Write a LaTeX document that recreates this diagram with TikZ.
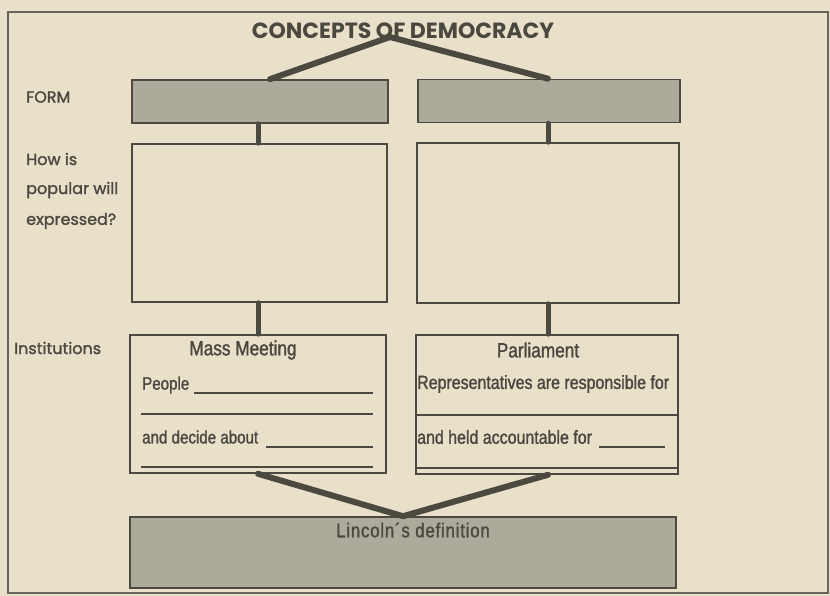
\documentclass[tikz,border=0pt]{standalone}
\usepackage{fontspec}
\setmainfont{Liberation Sans}
\newfontfamily\geo{Poppins}[FakeBold=1.5]
\newfontfamily\geotitle{Poppins}
\newfontfamily\cond{Liberation Sans}[FakeStretch=0.84, FakeBold=1.4]
\definecolor{paper}{HTML}{E8E0C9}
\definecolor{ink}{HTML}{4B4940}
\definecolor{boxfill}{HTML}{ADAA9B}
\definecolor{txt}{HTML}{4A483F}
\tikzset{
  x=1pt, y=-1pt,
  panel/.style={draw=ink, line width=1.6pt, rectangle, inner sep=0pt},
  shaded/.style={panel, fill=boxfill},
  link/.style={draw=ink, line width=6pt, line cap=round},
  stub/.style={draw=ink, line width=5pt, line cap=round},
  rule/.style={draw=ink, line width=1.2pt},
  lbl/.style={text=txt, font=\geo\fontsize{16}{19}\selectfont, anchor=west, inner sep=0pt},
  ctext/.style={text=txt, font=\cond\fontsize{19}{22}\selectfont, inner sep=0pt},
}
\begin{document}
\begin{tikzpicture}
\useasboundingbox (0,0) rectangle (830,596);
\fill[paper] (0,0) rectangle (830,596);
\draw[draw=ink!85, line width=2.4pt] (8,12) rectangle (828,593);

% title
\node[text=txt, font=\geotitle\bfseries\fontsize{22}{24}\selectfont, inner sep=0pt] (title) at (403,31) {CONCEPTS OF DEMOCRACY};
\coordinate (apex) at (390,37);

% boxes
\node[shaded, minimum width=256pt, minimum height=43pt] (formL) at (260,101.5) {};
\node[shaded, minimum width=262pt, minimum height=43pt] (formR) at (549,101) {};
\node[panel, minimum width=255pt, minimum height=158pt] (midL) at (259.5,223) {};
\node[panel, minimum width=262pt, minimum height=160pt] (midR) at (548,223) {};
\node[panel, minimum width=256pt, minimum height=138pt] (instL) at (258,404) {};
\node[panel, minimum width=262pt, minimum height=139pt] (instR) at (547,404.5) {};
\node[shaded, minimum width=546pt, minimum height=71pt] (linc) at (403,552.5) {};

% connectors
\draw[link] (apex) -- ([xshift=10pt]formL.north);
\draw[link] (apex) -- ([xshift=-1pt]formR.north);
\draw[stub] ([xshift=-2pt]formL.south) -- ([xshift=-1.5pt]midL.north);
\draw[stub] ([xshift=-1pt]formR.south) -- (midR.north);
\draw[stub] ([xshift=-1.5pt]midL.south) -- (instL.north);
\draw[stub] (midR.south) -- ([xshift=1pt]instR.north);
\draw[link] (instL.south) -- (linc.north);
\draw[link] ([xshift=1pt]instR.south) -- (linc.north);

% left labels
\node[lbl] (lform) at (26,97) {FORM};
\node[lbl] (lhow1) at (26,159) {How is};
\node[lbl] (lhow2) at (26,190) {popular will};
\node[lbl] (lhow3) at (26,221) {expressed?};
\node[lbl] (linst) at (14,348) {Institutions};

% Mass Meeting box
\node[ctext, font=\cond\fontsize{20.5}{24}\selectfont] (mm) at (243,350) {Mass Meeting};
\node[ctext, anchor=west, font=\cond\fontsize{18}{22}\selectfont] (people) at (142,385) {People};
\draw[rule] (194,393) -- (373,393);
\draw[rule] (141,414) -- (373,414);
\node[ctext, anchor=west, font=\cond\fontsize{18}{22}\selectfont] (decide) at (142,437) {and decide about};
\draw[rule] (266,447) -- (373,447);
\draw[rule] (141,467) -- (373,467);

% Parliament box
\node[ctext, font=\cond\fontsize{20.5}{24}\selectfont] (parl) at (538,350) {Parliament};
\node[ctext, anchor=west] (repr) at (417,384) {Representatives are responsible for};
\draw[rule] (416,415) -- (678,415);
\node[ctext, anchor=west] (held) at (417,437) {and held accountable for};
\draw[rule] (599,447) -- (665,447);
\draw[rule] (416,468) -- (678,468);

% Lincoln
\node[ctext, text=ink, font=\cond\fontsize{20}{22}\selectfont\addfontfeature{LetterSpace=4}] (ltext) at (413,530) {Lincoln´s definition};
\end{tikzpicture}
\end{document}
